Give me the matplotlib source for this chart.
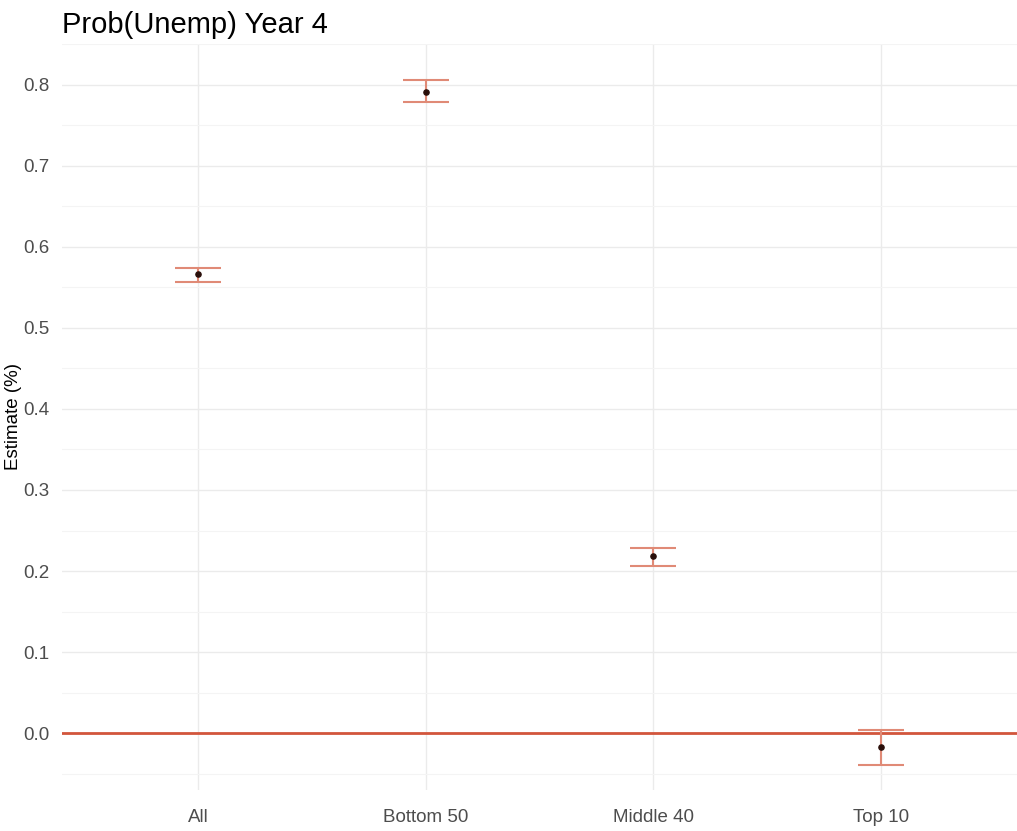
import matplotlib.pyplot as plt
import numpy as np

plt.rcParams['font.family'] = ['Liberation Sans', 'DejaVu Sans']

groups = ['All', 'Bottom 50', 'Middle 40', 'Top 10']
estimate = [0.566, 0.791, 0.218, -0.017]
upper = [0.574, 0.806, 0.228, 0.004]
lower = [0.557, 0.778, 0.206, -0.039]

x = np.arange(1, len(groups) + 1)
est = np.array(estimate)
yerr = [est - np.array(lower), np.array(upper) - est]

fig = plt.figure(figsize=(10.17, 8.31), dpi=100)
ax = fig.add_axes([62 / 1017, 41 / 831, 955 / 1017, 746 / 831])

# theme_minimal style grid
ax.set_yticks(np.arange(0, 0.81, 0.1))
ax.set_yticks(np.arange(-0.05, 0.86, 0.1), minor=True)
ax.grid(which='major', color='#ebebeb', lw=1.0)
ax.grid(which='minor', axis='y', color='#f4f4f4', lw=0.8)
ax.set_axisbelow(True)
for s in ax.spines.values():
    s.set_visible(False)
ax.tick_params(which='both', length=0, labelsize=13.5, colors='#4d4d4d')
ax.tick_params(axis='y', pad=9)
ax.tick_params(axis='x', pad=14)

ax.axhline(0, color='#d2553c', lw=2.0, zorder=2)
ax.errorbar(x, est, yerr=yerr, fmt='none', ecolor='#e08a76', elinewidth=1.5,
            capsize=16.5, capthick=1.5, zorder=3)
ax.scatter(x, est, s=14, color='#2a0f0a', zorder=4)

ax.set_xticks(x)
ax.set_xticklabels(groups)
ax.set_yticklabels([f'{v:.1f}' for v in np.arange(0, 0.81, 0.1)])
ax.set_xlim(0.4, 4.6)
ax.set_ylim(-0.07, 0.85)
ax.set_ylabel('Estimate (%)', fontsize=13.5, color='black', labelpad=1)
ax.set_title('Prob(Unemp) Year 4', loc='left', fontsize=21, x=0.0, pad=8)

fig.savefig('out.png', dpi=100, facecolor='white')
